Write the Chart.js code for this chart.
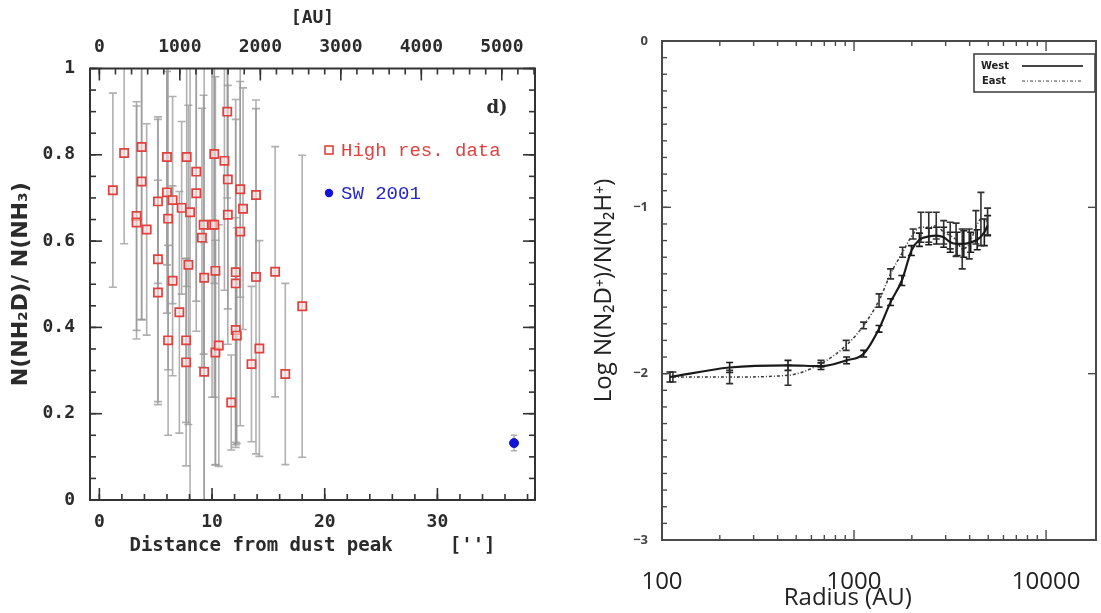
<!DOCTYPE html>
<html>
<head>
<meta charset="utf-8">
<script src="https://cdn.jsdelivr.net/npm/chart.js@4.4.1/dist/chart.umd.min.js"></script>
<style>
  html, body { margin: 0; padding: 0; background: #fff; }
  body { width: 1101px; height: 613px; position: relative; overflow: hidden; }
  .panel { position: absolute; top: 0; height: 613px; }
  #left { left: 0; width: 560px; }
  #right { left: 560px; width: 541px; }
</style>
</head>
<body>
<div class="panel" id="left"><canvas id="chart-ratio"></canvas></div>
<div class="panel" id="right"><canvas id="chart-radius"></canvas></div>
<script>
// ---- left panel: NH2D / NH3 vs distance ----
const hiresDist = [1.2, 2.2, 3.3, 3.3, 3.75, 3.75, 4.2, 5.2, 5.2, 5.2, 6.0, 6.0, 6.1, 6.1, 6.5, 6.5, 7.1, 7.3, 7.75, 7.9, 7.7, 7.7, 8.05, 8.6, 8.6, 9.1, 9.25, 9.3, 9.3, 10.0, 10.2, 10.2, 10.3, 10.3, 10.6, 11.1, 11.35, 11.4, 11.4, 11.7, 12.1, 12.1, 12.1, 12.2, 12.5, 12.5, 12.75, 13.5, 13.9, 13.9, 14.2, 15.6, 16.5, 18.0];
const hiresRatio = [0.718, 0.804, 0.658, 0.643, 0.818, 0.738, 0.627, 0.692, 0.558, 0.481, 0.795, 0.713, 0.652, 0.370, 0.695, 0.508, 0.435, 0.677, 0.795, 0.545, 0.370, 0.319, 0.667, 0.761, 0.711, 0.608, 0.638, 0.515, 0.297, 0.638, 0.638, 0.802, 0.531, 0.342, 0.358, 0.786, 0.900, 0.743, 0.661, 0.226, 0.528, 0.502, 0.394, 0.381, 0.720, 0.622, 0.675, 0.315, 0.707, 0.517, 0.351, 0.529, 0.292, 0.449];
const hiresErr = [0.225, 0.21, 0.265, 0.27, 0.4, 0.32, 0.245, 0.19, 0.33, 0.26, 0.25, 0.28, 0.35, 0.22, 0.24, 0.22, 0.28, 0.2, 0.3, 0.37, 0.19, 0.24, 0.67, 0.3, 0.32, 0.3, 0.3, 0.52, 0.3, 0.4, 0.4, 0.3, 0.45, 0.26, 0.28, 0.3, 0.2, 0.3, 0.3, 0.11, 0.4, 0.38, 0.26, 0.25, 0.25, 0.45, 0.28, 0.18, 0.2, 0.41, 0.25, 0.29, 0.21, 0.35];
const swDist = [36.8];
const swRatio = [0.132];
const swErr = [0.018];

const distTicks = [0, 10, 20, 30];
const distTickLabels = ["0", "10", "20", "30"];
const auTicks = [0, 1000, 2000, 3000, 4000, 5000];
const auTickLabels = ["0", "1000", "2000", "3000", "4000", "5000"];
const ratioTicks = [0, 0.2, 0.4, 0.6, 0.8, 1];
const ratioTickLabels = ["0", "0.2", "0.4", "0.6", "0.8", "1"];
const auPerArcsec = 140;

// ---- right panel: N2D+/N2H+ vs radius ----
const westRadius = [110, 225, 453, 673, 915, 1122, 1350, 1550, 1775, 1990, 2190, 2450, 2690, 2930, 3170, 3440, 3730, 4050, 4380, 4770, 4960];
const westLog = [-2.02, -1.963, -1.95, -1.955, -1.92, -1.88, -1.73, -1.57, -1.44, -1.26, -1.195, -1.175, -1.17, -1.18, -1.21, -1.22, -1.22, -1.21, -1.195, -1.15, -1.11];
const westErr = [0.03, 0.03, 0.03, 0.02, 0.02, 0.02, 0.02, 0.02, 0.03, 0.03, 0.04, 0.05, 0.05, 0.06, 0.06, 0.07, 0.08, 0.06, 0.06, 0.08, 0.06];
const eastRadius = [114, 225, 453, 673, 910, 1122, 1350, 1550, 1790, 2030, 2230, 2450, 2680, 2930, 3170, 3400, 3660, 3980, 4310, 4580, 4960];
const eastLog = [-2.02, -2.02, -2.01, -1.94, -1.83, -1.71, -1.56, -1.40, -1.27, -1.16, -1.12, -1.12, -1.11, -1.15, -1.17, -1.195, -1.25, -1.22, -1.12, -1.07, -1.085];
const eastErr = [0.03, 0.04, 0.06, 0.02, 0.03, 0.02, 0.04, 0.03, 0.03, 0.03, 0.09, 0.09, 0.08, 0.07, 0.08, 0.1, 0.12, 0.09, 0.1, 0.16, 0.08];

const radiusTicks = [100, 1000, 10000];
const radiusTickLabels = ["100", "1000", "10000"];
const logTicks = [-3, -2, -1, 0];
const logTickLabels = ["\u22123", "\u22122", "\u22121", "0"];

const ink = "#2b2b2b";
const monoBold = { family: '"DejaVu Sans Mono", monospace', size: 18, weight: "bold" };
const sans = '"Open Sans", "DejaVu Sans", sans-serif';

const zip = (xs, ys) => xs.map((x, i) => ({ x, y: ys[i] }));
const range = (a, b, step) => {
  const out = [];
  for (let v = a; v <= b + 1e-9; v += step) out.push(+v.toFixed(6));
  return out;
};
const decadeMinor = (lo, hi) => {
  const out = [];
  for (let d = lo; d < hi; d *= 10) for (let k = 2; k <= 9; k++) out.push(d * k);
  return out;
};

// vertical error bars with caps, clipped to the plot box
const errorBars = {
  id: "errorBars",
  beforeDatasetsDraw(chart) {
    const { ctx, chartArea: a } = chart;
    ctx.save();
    ctx.beginPath();
    ctx.rect(a.left, a.top, a.width, a.height);
    ctx.clip();
    chart.data.datasets.forEach((ds, i) => {
      const bars = ds.errorBars;
      if (!bars) return;
      const meta = chart.getDatasetMeta(i);
      const xs = chart.scales[meta.xAxisID];
      const ys = chart.scales[meta.yAxisID];
      ctx.strokeStyle = bars.color;
      ctx.lineWidth = bars.width;
      ds.data.forEach((p, j) => {
        const x = xs.getPixelForValue(p.x);
        const lo = ys.getPixelForValue(p.y - bars.err[j]);
        const hi = ys.getPixelForValue(p.y + bars.err[j]);
        ctx.beginPath();
        ctx.moveTo(x, lo); ctx.lineTo(x, hi);
        ctx.moveTo(x - bars.cap, lo); ctx.lineTo(x + bars.cap, lo);
        ctx.moveTo(x - bars.cap, hi); ctx.lineTo(x + bars.cap, hi);
        ctx.stroke();
      });
    });
    ctx.restore();
  },
};

// box around the plot plus inward tick marks
const frameTicks = {
  id: "frameTicks",
  afterDraw(chart, args, opts) {
    const { ctx, chartArea: a } = chart;
    ctx.save();
    ctx.strokeStyle = opts.color;
    ctx.lineWidth = opts.tickWidth;
    opts.marks.forEach((m) => {
      const s = chart.scales[m.scale];
      m.values.forEach((v) => {
        const p = s.getPixelForValue(v);
        ctx.beginPath();
        if (m.side === "bottom") { ctx.moveTo(p, a.bottom); ctx.lineTo(p, a.bottom - m.len); }
        if (m.side === "top") { ctx.moveTo(p, a.top); ctx.lineTo(p, a.top + m.len); }
        if (m.side === "left") { ctx.moveTo(a.left, p); ctx.lineTo(a.left + m.len, p); }
        if (m.side === "right") { ctx.moveTo(a.right, p); ctx.lineTo(a.right - m.len, p); }
        ctx.stroke();
      });
    });
    ctx.lineWidth = opts.width;
    ctx.strokeRect(a.left, a.top, a.width, a.height);
    ctx.restore();
  },
};

// free text drawn inside the plot (legends, panel tag)
const annotations = {
  id: "annotations",
  afterDraw(chart, args, opts) {
    const { ctx } = chart;
    ctx.save();
    (opts.items || []).forEach((it) => it(ctx, chart));
    ctx.restore();
  },
};

Chart.defaults.animation = false;
Chart.defaults.color = ink;

new Chart(document.getElementById("chart-ratio"), {
  type: "scatter",
  data: {
    datasets: [
      {
        label: "High res. data",
        data: zip(hiresDist, hiresRatio),
        pointStyle: "rect",
        pointRadius: 5.8,
        borderColor: "#e0413d",
        backgroundColor: "rgba(255, 225, 225, 0.6)",
        borderWidth: 1.7,
        xAxisID: "x",
        yAxisID: "y",
        errorBars: { err: hiresErr, color: "rgba(150, 150, 150, 0.75)", width: 1.6, cap: 4 },
      },
      {
        label: "SW 2001",
        data: zip(swDist, swRatio),
        pointStyle: "circle",
        pointRadius: 4.5,
        borderColor: "#1212d4",
        backgroundColor: "#1212d4",
        borderWidth: 1,
        xAxisID: "x",
        yAxisID: "y",
        errorBars: { err: swErr, color: "rgba(150, 150, 150, 0.75)", width: 1.6, cap: 3 },
      },
    ],
  },
  options: {
    responsive: true,
    maintainAspectRatio: false,
    events: [],
    layout: { padding: { top: 0, right: 25, bottom: 53, left: 0 } },
    plugins: {
      legend: { display: false },
      tooltip: { enabled: false },
      frameTicks: {
        color: "#333",
        width: 2,
        tickWidth: 1.6,
        marks: [
          { scale: "x", side: "bottom", values: distTicks, len: 12 },
          { scale: "x", side: "bottom", values: range(0, 38, 2), len: 6 },
          { scale: "xAU", side: "top", values: auTicks, len: 12 },
          { scale: "xAU", side: "top", values: range(0, 5400, 200), len: 6 },
          { scale: "y", side: "left", values: ratioTicks, len: 12 },
          { scale: "y", side: "left", values: range(0, 1, 0.05), len: 6 },
          { scale: "y", side: "right", values: ratioTicks, len: 12 },
          { scale: "y", side: "right", values: range(0, 1, 0.05), len: 6 },
        ],
      },
      annotations: {
        items: [
          (ctx) => {
            ctx.strokeStyle = "#e0413d";
            ctx.lineWidth = 1.6;
            ctx.strokeRect(325, 146, 8, 8);
            ctx.fillStyle = "#1212d4";
            ctx.beginPath();
            ctx.arc(329, 193, 4.2, 0, Math.PI * 2);
            ctx.fill();
            ctx.font = '19px "Liberation Mono", monospace';
            ctx.textBaseline = "middle";
            ctx.fillStyle = "#e0413d";
            ctx.fillText("High res. data", 341, 151);
            ctx.fillStyle = "#2727c8";
            ctx.fillText("SW 2001", 341, 194);
            ctx.fillStyle = ink;
            ctx.font = 'bold 18px "DejaVu Serif", serif';
            ctx.textAlign = "center";
            ctx.fillText("d)", 497, 108);
          },
        ],
      },
    },
    scales: {
      x: {
        type: "linear",
        position: "bottom",
        min: -0.83,
        max: 38.66,
        afterBuildTicks: (s) => { s.ticks = distTicks.map((v) => ({ value: v })); },
        afterFit: (s) => { s.height = 60; },
        grid: { display: false },
        border: { display: false },
        ticks: { font: monoBold, color: ink, padding: 4, maxRotation: 0, callback: (v, i) => distTickLabels[i] },
        title: {
          display: true,
          text: "Distance from dust peak     ['']",
          font: { family: '"DejaVu Sans Mono", monospace', size: 19, weight: "bold" },
          color: ink,
          padding: { top: 0, bottom: 3 },
        },
      },
      xAU: {
        type: "linear",
        position: "top",
        min: -0.83 * auPerArcsec,
        max: 38.66 * auPerArcsec,
        afterBuildTicks: (s) => { s.ticks = auTicks.map((v) => ({ value: v })); },
        afterFit: (s) => { s.height = 68.5; },
        grid: { display: false },
        border: { display: false },
        ticks: { font: monoBold, color: ink, padding: 2, maxRotation: 0, callback: (v, i) => auTickLabels[i] },
        title: {
          display: true,
          text: "[AU]",
          font: { family: '"DejaVu Sans Mono", monospace', size: 18, weight: "bold" },
          color: ink,
          padding: { top: 8, bottom: 0 },
        },
      },
      y: {
        type: "linear",
        position: "left",
        min: 0,
        max: 1,
        afterBuildTicks: (s) => { s.ticks = ratioTicks.map((v) => ({ value: v })); },
        afterFit: (s) => { s.width = 90; },
        grid: { display: false },
        border: { display: false },
        ticks: { font: monoBold, color: ink, padding: 7, callback: (v, i) => ratioTickLabels[i] },
        title: {
          display: true,
          text: "N(NH\u2082D)/ N(NH\u2083)",
          font: { family: '"DejaVu Sans", sans-serif', size: 22, weight: "bold" },
          color: ink,
          padding: { top: 8, bottom: 0 },
        },
      },
    },
  },
  plugins: [errorBars, frameTicks, annotations],
});

new Chart(document.getElementById("chart-radius"), {
  type: "line",
  data: {
    datasets: [
      {
        label: "West",
        data: zip(westRadius, westLog),
        borderColor: "#1a1a1a",
        borderWidth: 2.2,
        pointRadius: 0,
        tension: 0.3,
        cubicInterpolationMode: "monotone",
        errorBars: { err: westErr, color: "#1a1a1a", width: 1.6, cap: 3.5 },
      },
      {
        label: "East",
        data: zip(eastRadius, eastLog),
        borderColor: "#3a3a3a",
        borderWidth: 1.5,
        borderDash: [3, 2, 1, 2],
        pointRadius: 0,
        tension: 0.3,
        cubicInterpolationMode: "monotone",
        errorBars: { err: eastErr, color: "#303030", width: 1.6, cap: 3.5 },
      },
    ],
  },
  options: {
    responsive: true,
    maintainAspectRatio: false,
    events: [],
    layout: { padding: { top: 41, right: 5, bottom: 0, left: 0 } },
    plugins: {
      legend: { display: false },
      tooltip: { enabled: false },
      frameTicks: {
        color: "#4a4a4a",
        width: 2,
        tickWidth: 1.4,
        marks: [
          { scale: "x", side: "bottom", values: radiusTicks, len: 10 },
          { scale: "x", side: "bottom", values: decadeMinor(100, 10000), len: 5 },
          { scale: "x", side: "top", values: radiusTicks, len: 10 },
          { scale: "x", side: "top", values: decadeMinor(100, 10000), len: 5 },
          { scale: "y", side: "left", values: logTicks, len: 9 },
          { scale: "y", side: "left", values: range(-3, 0, 0.1), len: 5 },
          { scale: "y", side: "right", values: logTicks, len: 8 },
        ],
      },
      annotations: {
        items: [
          (ctx) => {
            ctx.strokeStyle = "#444";
            ctx.lineWidth = 1.6;
            ctx.strokeRect(414, 54, 121, 38);
            ctx.fillStyle = "#222";
            ctx.font = 'bold 11px "DejaVu Sans Condensed", "DejaVu Sans", sans-serif';
            ctx.textBaseline = "middle";
            ctx.fillText("West", 421, 66);
            ctx.fillText("East", 422, 81);
            ctx.lineWidth = 2;
            ctx.beginPath();
            ctx.moveTo(462, 66); ctx.lineTo(523, 66);
            ctx.stroke();
            ctx.lineWidth = 1.2;
            ctx.setLineDash([3, 2, 1, 2]);
            ctx.beginPath();
            ctx.moveTo(462, 81); ctx.lineTo(523, 81);
            ctx.stroke();
          },
        ],
      },
    },
    scales: {
      x: {
        type: "logarithmic",
        position: "bottom",
        min: 100,
        max: 18200,
        afterBuildTicks: (s) => { s.ticks = radiusTicks.map((v) => ({ value: v })); },
        afterFit: (s) => { s.height = 73; },
        grid: { display: false },
        border: { display: false },
        ticks: { font: { family: sans, size: 24 }, color: "#222", padding: 20, maxRotation: 0, callback: (v, i) => radiusTickLabels[i] },
        title: { display: true, text: "Radius (AU)          ", font: { family: sans, size: 24 }, color: "#222", padding: { top: 0, bottom: 0 } },
      },
      y: {
        type: "linear",
        position: "left",
        min: -3,
        max: 0,
        afterBuildTicks: (s) => { s.ticks = logTicks.map((v) => ({ value: v })); },
        afterFit: (s) => { s.width = 102; },
        grid: { display: false },
        border: { display: false },
        ticks: { font: { family: sans, size: 13, weight: "bold" }, color: "#444", padding: 6, callback: (v, i) => logTickLabels[i] },
        title: {
          display: true,
          text: "Log N(N\u2082D\u207A)/N(N\u2082H\u207A)",
          font: { family: sans, size: 24 },
          color: "#222",
          padding: { top: 30, bottom: 0 },
        },
      },
    },
  },
  plugins: [errorBars, frameTicks, annotations],
});
</script>
</body>
</html>
